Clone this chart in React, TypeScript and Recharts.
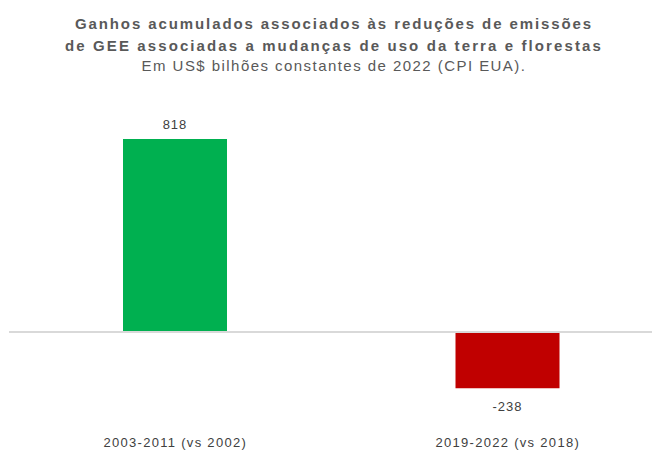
import React from 'react'
import { BarChart, Bar, XAxis, YAxis, Cell, ReferenceLine, LabelList } from 'recharts'

const categories = ['2003-2011 (vs 2002)', '2019-2022 (vs 2018)']
const values = [818, -238]
const COLORS = ['#00B050', '#C00000']

const data = categories.map((name, i) => ({ name, value: values[i] }))

const FONT = '"Liberation Sans", Arial, sans-serif'

const renderLabel = (props: any) => {
  const { x, y, width, height, value } = props
  const cx = x + width / 2
  const top = Math.min(y, y + height)
  const bottom = Math.max(y, y + height)
  const ty = value >= 0 ? top - 15 : bottom + 18
  return (
    <text x={cx} y={ty} textAnchor="middle" dominantBaseline="central" fill="#404040" fontSize={13} fontFamily={FONT} letterSpacing={1}>
      {value}
    </text>
  )
}

const CategoryTick = (props: any) => {
  const { x, y, payload } = props
  return (
    <text x={x} y={y + 9} textAnchor="middle" fill="#404040" fontSize={13} fontFamily={FONT} letterSpacing={1.3}>
      {payload.value}
    </text>
  )
}

const App = () => {
  return (
    <div style={{ position: 'relative', width: 652, height: 444, overflow: 'hidden', fontFamily: FONT }}>
      <div style={{ position: 'absolute', top: 4, left: 0, width: 652, textAlign: 'center', color: '#595959' }}>
        <div style={{ fontWeight: 'bold', fontSize: 15, lineHeight: '24px', letterSpacing: 1.9 }}>
          Ganhos acumulados associados às reduções de emissões
        </div>
        <div style={{ fontWeight: 'bold', fontSize: 15, lineHeight: '20px', letterSpacing: 2.1 }}>
          de GEE associadas a mudanças de uso da terra e florestas
        </div>
        <div style={{ fontSize: 15, lineHeight: '19px', letterSpacing: 1.45 }}>
          Em US$ bilhões constantes de 2022 (CPI EUA).
        </div>
      </div>
      <div style={{ position: 'absolute', top: 0, left: 0 }}>
        <BarChart width={666} height={444} data={data} margin={{ top: 111.7, right: 0, bottom: 0, left: 1 }} barCategoryGap={0}>
          <XAxis
            dataKey="name"
            axisLine={false}
            tickLine={false}
            height={49.2}
            tickMargin={29.5}
            tick={<CategoryTick />}
            interval={0}
          />
          <YAxis hide domain={[-300, 900]} />
          <ReferenceLine y={0} stroke="#d9d9d9" strokeWidth={2} />
          <Bar dataKey="value" barSize={104} isAnimationActive={false}>
            {data.map((entry, index) => (
              <Cell key={`cell-${index}`} fill={COLORS[index % COLORS.length]} />
            ))}
            <LabelList dataKey="value" content={renderLabel} />
          </Bar>
        </BarChart>
      </div>
    </div>
  )
}

export default App
